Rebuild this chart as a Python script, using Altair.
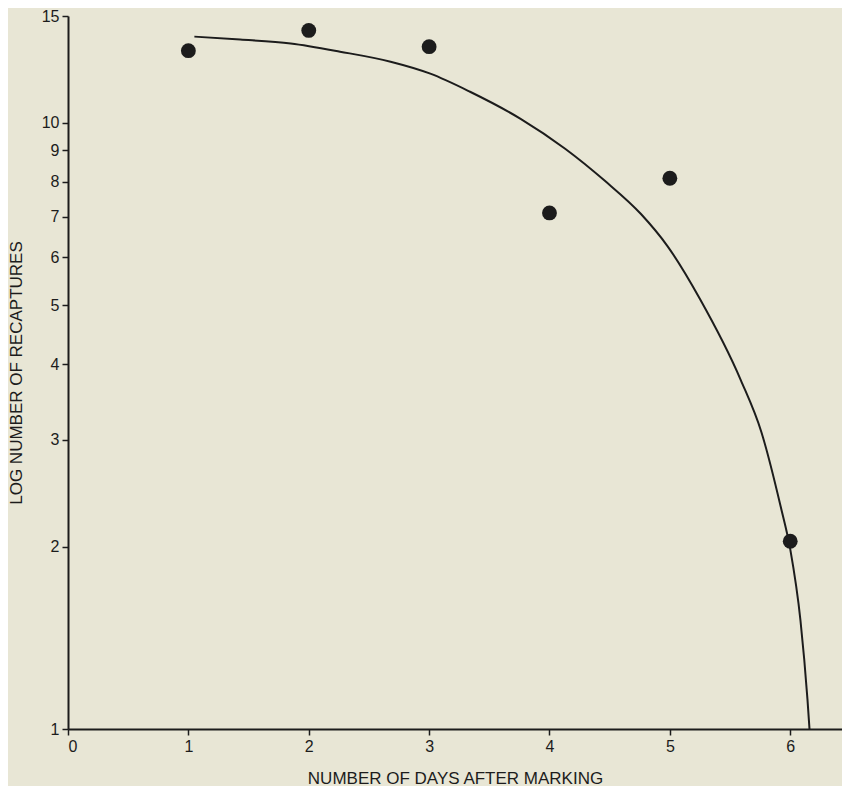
import altair as alt
import pandas as pd

# observed recaptures
days = [1, 2, 3, 4, 5, 6]
recaptures = [13.15, 14.2, 13.35, 7.1, 8.1, 2.04]

# fitted curve
curve_x = [1.05, 1.43, 1.85, 2.26, 2.68, 3.01, 3.34, 3.76, 4.13, 4.46, 4.76, 4.98, 5.25, 5.59, 5.76, 5.92, 6.0, 6.085, 6.143, 6.16]
curve_y = [13.87, 13.72, 13.51, 13.10, 12.61, 12.05, 11.25, 10.15, 9.06, 8.02, 7.07, 6.26, 5.12, 3.76, 3.09, 2.33, 1.98, 1.51, 1.12, 1.0]

y_ticks = [1, 2, 3, 4, 5, 6, 7, 8, 9, 10, 15]
x_ticks = [0, 1, 2, 3, 4, 5, 6]

pts = pd.DataFrame({"x": days, "y": recaptures})
cur = pd.DataFrame({"x": curve_x, "y": curve_y})

ink = "#1c1c1c"
font = "Liberation Sans"

xscale = alt.Scale(domain=[0, 6.43], nice=False, zero=False)
yscale = alt.Scale(type="log", domain=[1, 15], nice=False)

xaxis = alt.Axis(
    values=x_ticks, format="d", title="NUMBER OF DAYS AFTER MARKING", grid=False,
    domainColor=ink, domainWidth=2, tickColor=ink, tickWidth=1.5, tickSize=6,
    labelFont=font, labelFontSize=16, labelColor=ink, labelPadding=3,
    titleFont=font, titleFontSize=17, titleFontWeight="normal", titleColor=ink,
    titlePadding=16,
)
yaxis = alt.Axis(
    values=y_ticks, title="LOG NUMBER OF RECAPTURES", grid=False, format="d",
    domainColor=ink, domainWidth=2, tickColor=ink, tickWidth=1.5, tickSize=6,
    labelFont=font, labelFontSize=16, labelColor=ink, labelPadding=3,
    titleFont=font, titleFontSize=17, titleFontWeight="normal", titleColor=ink,
    titlePadding=16,
)

line = alt.Chart(cur).mark_line(color=ink, strokeWidth=2, interpolate="monotone", clip=True).encode(
    x=alt.X("x:Q", scale=xscale, axis=xaxis),
    y=alt.Y("y:Q", scale=yscale, axis=yaxis),
)
dots = alt.Chart(pts).mark_point(filled=True, color=ink, opacity=1, size=220, shape="circle").encode(
    x=alt.X("x:Q", scale=xscale),
    y=alt.Y("y:Q", scale=yscale),
)

chart = (line + dots).properties(
    width=774, height=713,
    autosize=alt.AutoSizeParams(type="none"),
    padding={"left": 60, "top": 8, "right": 0, "bottom": 57},
    background="#e8e6d5",
).configure_view(stroke=None)

chart.save("out.html", embed_options={"renderer": "svg", "actions": False})
